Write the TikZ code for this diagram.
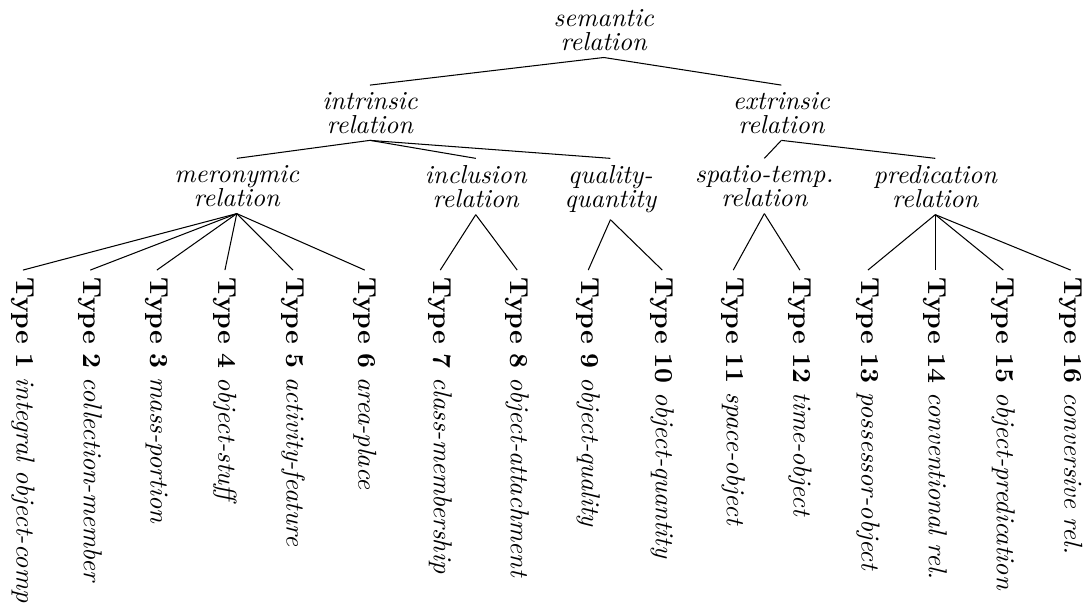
\documentclass[tikz,border=0pt]{standalone}
\usepackage{amsmath}
\usepackage{amssymb}
\usepackage{tikz}

\tikzset{
  rel/.style={align=center, anchor=north, inner sep=2.5pt, font={\itshape\baselineskip=9.2pt}},
  leaf/.style={rotate=-90, anchor=west, inner xsep=2.5pt, inner ysep=0pt}
}

\begin{document}
\begin{tikzpicture}
\useasboundingbox (0, 0) rectangle (14.65, -8.27);
\clip (0, 0) rectangle (14.65, -8.27);
\node[rel] (sem) at (8.16, -0.03) {semantic\\relation};
\node[rel] (intr) at (5.00, -1.15) {intrinsic\\relation};
\node[rel] (extr) at (10.56, -1.15) {extrinsic\\relation};
\node[rel] (mero) at (3.20, -2.14) {meronymic\\relation};
\node[rel] (incl) at (6.43, -2.14) {inclusion\\relation};
\node[rel] (qual) at (8.25, -2.14) {quality-\\quantity};
\node[rel] (spat) at (10.33, -2.14) {spatio-temp.\\relation};
\node[rel] (pred) at (12.64, -2.14) {predication\\relation};
\node[leaf] (t1) at (0.31, -3.65) {\textbf{Type 1} \textit{integral object-comp}};
\node[leaf] (t2) at (1.22, -3.65) {\textbf{Type 2} \textit{collection-member}};
\node[leaf] (t3) at (2.12, -3.65) {\textbf{Type 3} \textit{mass-portion}};
\node[leaf] (t4) at (3.04, -3.65) {\textbf{Type 4} \textit{object-stuff}};
\node[leaf] (t5) at (3.96, -3.65) {\textbf{Type 5} \textit{activity-feature}};
\node[leaf] (t6) at (4.93, -3.65) {\textbf{Type 6} \textit{area-place}};
\node[leaf] (t7) at (5.95, -3.65) {\textbf{Type 7} \textit{class-membership}};
\node[leaf] (t8) at (6.99, -3.65) {\textbf{Type 8} \textit{object-attachment}};
\node[leaf] (t9) at (7.95, -3.65) {\textbf{Type 9} \textit{object-quality}};
\node[leaf] (t10) at (8.95, -3.65) {\textbf{Type 10} \textit{object-quantity}};
\node[leaf] (t11) at (9.91, -3.65) {\textbf{Type 11} \textit{space-object}};
\node[leaf] (t12) at (10.81, -3.65) {\textbf{Type 12} \textit{time-object}};
\node[leaf] (t13) at (11.73, -3.65) {\textbf{Type 13} \textit{possessor-object}};
\node[leaf] (t14) at (12.64, -3.65) {\textbf{Type 14} \textit{conventional rel.}};
\node[leaf] (t15) at (13.56, -3.65) {\textbf{Type 15} \textit{object-predication}};
\node[leaf] (t16) at (14.47, -3.65) {\textbf{Type 16} \textit{conversive rel.}};
\draw (sem.south) -- (intr.north);
\draw (sem.south) -- (extr.north);
\draw (intr.south) -- (mero.north);
\draw (intr.south) -- (incl.north);
\draw (intr.south) -- (qual.north);
\draw (extr.south) -- (spat.north);
\draw (extr.south) -- (pred.north);
\foreach \t in {1,...,6} \draw (mero.south) -- (t\t.west);
\draw (incl.south) -- (t7.west);
\draw (incl.south) -- (t8.west);
\draw (qual.south) -- (t9.west);
\draw (qual.south) -- (t10.west);
\draw (spat.south) -- (t11.west);
\draw (spat.south) -- (t12.west);
\foreach \t in {13,...,16} \draw (pred.south) -- (t\t.west);
\end{tikzpicture}
\end{document}
